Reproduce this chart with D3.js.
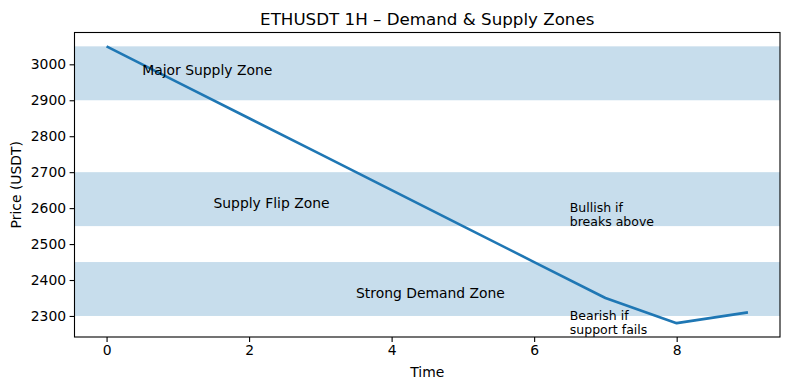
<!DOCTYPE html>
<html>
<head>
<meta charset="utf-8">
<script src="https://cdn.jsdelivr.net/npm/d3@7"></script>
<style>
  body { margin: 0; background: #fff; }
  text { font-family: "DejaVu Sans", sans-serif; fill: #000; }
</style>
</head>
<body>
<div id="chart"></div>
<script>
// Data
const times = [0, 1, 2, 3, 4, 5, 6, 7, 8, 9];
const prices = [3050, 2950, 2850, 2750, 2650, 2550, 2450, 2350, 2280, 2310];
const zones = [
  { low: 2900, high: 3050 },
  { low: 2550, high: 2700 },
  { low: 2300, high: 2450 }
];
const zoneLabels = [
  { x: 0.5, y: 2970, lines: ["Major Supply Zone"], small: false },
  { x: 1.5, y: 2600, lines: ["Supply Flip Zone"], small: false },
  { x: 3.5, y: 2350, lines: ["Strong Demand Zone"], small: false },
  { x: 6.5, y: 2550, lines: ["Bullish if", "breaks above"], small: true },
  { x: 6.5, y: 2250, lines: ["Bearish if", "support fails"], small: true }
];
const xTicks = [0, 2, 4, 6, 8];
const yTicks = [2300, 2400, 2500, 2600, 2700, 2800, 2900, 3000];

const W = 790, H = 390;
const margin = { top: 32.5, right: 10, bottom: 53, left: 74.5 };
const w = W - margin.left - margin.right;
const h = H - margin.top - margin.bottom;
const blue = "#1f77b4";

const svg = d3.select("#chart").append("svg")
  .attr("width", W).attr("height", H);

// matplotlib-like 5% padding
const xMin = d3.min(times), xMax = d3.max(times);
const yMin = d3.min(prices), yMax = d3.max(prices);
const xPad = (xMax - xMin) * 0.05, yPad = (yMax - yMin) * 0.05;

const x = d3.scaleLinear().domain([xMin - xPad, xMax + xPad]).range([0, w]);
const y = d3.scaleLinear().domain([yMin - yPad, yMax + yPad]).range([h, 0]);

const inner = svg.append("g")
  .attr("transform", `translate(${margin.left},${margin.top})`);

// zones
inner.selectAll(".zone").data(zones).enter().append("rect")
  .attr("class", "zone")
  .attr("x", 0).attr("width", w)
  .attr("y", d => y(d.high))
  .attr("height", d => y(d.low) - y(d.high))
  .attr("fill", blue).attr("fill-opacity", 0.25);

// price line
const line = d3.line().x((d, i) => x(times[i])).y(d => y(d));
inner.append("path")
  .datum(prices)
  .attr("fill", "none")
  .attr("stroke", blue)
  .attr("stroke-width", 2.6)
  .attr("stroke-linejoin", "round")
  .attr("d", line);

// zone texts (baseline of last line sits at y)
zoneLabels.forEach(lab => {
  const fs = lab.small ? 12.5 : 13.9;
  const lh = lab.small ? 14.4 : 16.5;
  const n = lab.lines.length;
  const t = inner.append("text")
    .attr("x", x(lab.x))
    .attr("y", y(lab.y) - (n - 1) * lh)
    .style("font-size", fs + "px");
  lab.lines.forEach((s, i) => {
    t.append("tspan").attr("x", x(lab.x)).attr("dy", i === 0 ? 0 : lh).text(s);
  });
});

// axes
const xAxis = d3.axisBottom(x).tickValues(xTicks).tickSize(4.9).tickPadding(3.5).tickFormat(d3.format("d"));
const yAxis = d3.axisLeft(y).tickValues(yTicks).tickSize(4.9).tickPadding(3.5).tickFormat(d3.format("d"));

const gX = inner.append("g").attr("transform", `translate(0,${h})`).call(xAxis);
const gY = inner.append("g").call(yAxis);
[gX, gY].forEach(g => {
  g.select(".domain").remove();
  g.selectAll(".tick line").attr("stroke", "#000").attr("stroke-width", 1.1);
  g.selectAll(".tick text").style("font-size", "13.9px").attr("fill", "#000");
});

// frame
inner.append("rect")
  .attr("width", w).attr("height", h)
  .attr("fill", "none").attr("stroke", "#000").attr("stroke-width", 1.1);

// labels
svg.append("text")
  .attr("x", margin.left + w / 2).attr("y", 25)
  .attr("text-anchor", "middle")
  .style("font-size", "16.7px")
  .text("ETHUSDT 1H \u2013 Demand & Supply Zones");

svg.append("text")
  .attr("x", margin.left + w / 2).attr("y", 376.5)
  .attr("text-anchor", "middle")
  .style("font-size", "13.9px")
  .text("Time");

svg.append("text")
  .attr("transform", `translate(21,${margin.top + h / 2}) rotate(-90)`)
  .attr("text-anchor", "middle")
  .style("font-size", "13.9px")
  .text("Price (USDT)");
</script>
</body>
</html>
